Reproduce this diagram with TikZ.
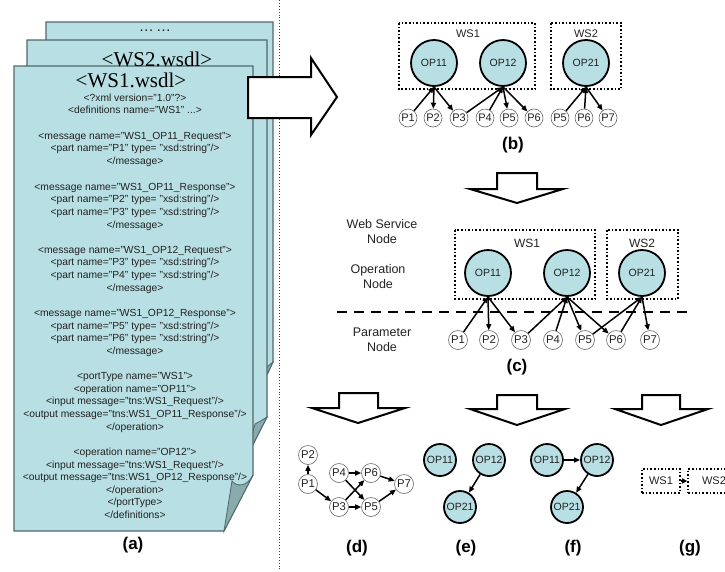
\documentclass[tikz,border=0pt]{standalone}
\usepackage{fontspec}
\setmainfont{Liberation Sans}
\newfontfamily\serifx{Liberation Serif}
\usetikzlibrary{arrows.meta}
\definecolor{docfill}{RGB}{184,223,227}
\definecolor{docline}{RGB}{80,104,108}
\definecolor{foldfill}{RGB}{138,170,173}
\definecolor{opfill}{RGB}{184,223,227}
\definecolor{ink}{RGB}{34,34,34}
\begin{document}
\begin{tikzpicture}[x=1pt,y=-1pt,
  doctext/.style={font=\fontsize{10.3}{12}\selectfont, text=ink, inner sep=0, text height=7.5pt, text depth=2pt},
  doctitle/.style={font=\serifx\fontsize{21}{24}\selectfont, text=black, inner sep=0},
  op/.style={circle, draw=black, line width=1.8pt, fill=opfill, minimum size=46pt, inner sep=0, font=\fontsize{10.5}{12}\selectfont, text=ink},
  opsm/.style={op, minimum size=32pt, font=\fontsize{10.5}{12}\selectfont},
  par/.style={circle, draw=black!60, line width=0.6pt, fill=white, minimum size=19pt, inner sep=0, font=\fontsize{11.3}{12}\selectfont, text=ink},
  wsbox/.style={draw=black, dotted, line width=1.6pt},
  wslab/.style={font=\fontsize{12}{14}\selectfont, text=ink, inner sep=0},
  gbox/.style={draw=black, dotted, line width=1.6pt, minimum height=24pt, inner sep=0, font=\fontsize{11}{13}\selectfont, text=ink},
  edge/.style={line width=1.5pt, -{Triangle[length=6pt,width=5pt]}},
  bigarrow/.style={draw=black, line width=2pt, fill=white, line join=miter},
  lab/.style={font=\bfseries\fontsize{17}{20}\selectfont, text=black, inner sep=0},
  side/.style={font=\fontsize{12.5}{15}\selectfont, text=ink, align=center, inner sep=0},
]
\useasboundingbox (0,0) rectangle (725,571);

% ---------- documents ----------
\draw[docline, fill=docfill, line width=1.2pt] (46,22) -- (273,22) -- (273,362) -- (262,385) -- (46,385) -- cycle;
\filldraw[draw=docline, fill=foldfill, line width=0.8pt] (273,362) -- (262,385) -- (266,369) .. controls (268,366) .. (273,362) -- cycle;
\draw[docline, fill=docfill, line width=1.2pt] (27,40) -- (267,40) -- (267,417) -- (245,460) -- (27,460) -- cycle;
\filldraw[draw=docline, fill=foldfill, line width=0.8pt] (267,417) -- (245,460) -- (255,424) .. controls (259,422) .. (267,417) -- cycle;
\draw[docline, fill=docfill, line width=1.2pt] (14,66) -- (253,66) -- (253,475) -- (224,531) -- (14,531) -- cycle;
\filldraw[draw=docline, fill=foldfill, line width=0.8pt] (253,475) -- (224,531) -- (232,481) .. controls (237,487) and (247,487) .. (253,475) -- cycle;

\node[font=\fontsize{15}{16}\selectfont, text=ink, inner sep=0] (dots) at (155,31) {…\,…};
\node[doctitle] (ws2t) at (157,59) {<WS2.wsdl>};
\node[doctitle] (ws1t) at (131,80) {<WS1.wsdl>};

\node[doctext] (l1) at (135,99) {<?xml version="1.0"?>};
\node[doctext] (l2) at (135,111) {<definitions name="WS1" ...>};
\node[doctext] (l3) at (135,137) {<message name="WS1\_OP11\_Request">};
\node[doctext] (l4) at (135,149) {<part name="P1" type= "xsd:string"/>};
\node[doctext] (l5) at (135,162) {</message>};
\node[doctext] (l6) at (135,188) {<message name="WS1\_OP11\_Response">};
\node[doctext] (l7) at (135,200) {<part name="P2" type= "xsd:string"/>};
\node[doctext] (l8) at (135,213) {<part name="P3" type= "xsd:string"/>};
\node[doctext] (l9) at (135,226) {</message>};
\node[doctext] (l10) at (135,251) {<message name="WS1\_OP12\_Request">};
\node[doctext] (l11) at (135,263) {<part name="P3" type= "xsd:string"/>};
\node[doctext] (l12) at (135,276) {<part name="P4" type= "xsd:string"/>};
\node[doctext] (l13) at (135,289) {</message>};
\node[doctext] (l14) at (135,314) {<message name="WS1\_OP12\_Response">};
\node[doctext] (l15) at (135,327) {<part name="P5" type= "xsd:string"/>};
\node[doctext] (l16) at (135,339) {<part name="P6" type= "xsd:string"/>};
\node[doctext] (l17) at (135,352) {</message>};
\node[doctext] (l18) at (135,377) {<portType name="WS1">};
\node[doctext] (l19) at (135,390) {<operation name="OP11">};
\node[doctext] (l20) at (135,402) {<input message="tns:WS1\_Request"/>};
\node[doctext] (l21) at (135,415) {<output message="tns:WS1\_OP11\_Response"/>};
\node[doctext] (l22) at (135,428) {</operation>};
\node[doctext] (l23) at (135,453) {<operation name="OP12">};
\node[doctext] (l24) at (135,466) {<input message="tns:WS1\_Request"/>};
\node[doctext] (l25) at (135,478) {<output message="tns:WS1\_OP12\_Response"/>};
\node[doctext] (l26) at (135,491) {</operation>};
\node[doctext] (l27) at (135,503) {</portType>};
\node[doctext] (l28) at (135,516) {</definitions>};

\node[lab] (la) at (133,545) {(a)};

% divider
\draw[dotted, line width=0.9pt, black!75] (279,0) -- (279,571);

% big right arrow
\draw[bigarrow] (248,77) -- (311,77) -- (311,58) -- (337,97) -- (311,135) -- (311,118) -- (248,118) -- cycle;

% ---------- (b) ----------
\draw[wsbox] (399,23) rectangle (535,89);
\draw[wsbox] (551,23) rectangle (621,89);
\node[wslab, font=\fontsize{11}{13}\selectfont] (bws1) at (468,34) {WS1};
\node[wslab, font=\fontsize{11}{13}\selectfont] (bws2) at (586,34) {WS2};
\node[op] (bop11) at (434,63) {OP11};
\node[op] (bop12) at (503,63) {OP12};
\node[op] (bop21) at (586,63) {OP21};
\node[par, minimum size=18pt, font=\fontsize{11}{12}\selectfont] (bp1) at (408,118) {P1};
\node[par, minimum size=18pt, font=\fontsize{11}{12}\selectfont] (bp2) at (433,118) {P2};
\node[par, minimum size=18pt, font=\fontsize{11}{12}\selectfont] (bp3) at (459,118) {P3};
\node[par, minimum size=18pt, font=\fontsize{11}{12}\selectfont] (bp4) at (485,118) {P4};
\node[par, minimum size=18pt, font=\fontsize{11}{12}\selectfont] (bp5) at (509,118) {P5};
\node[par, minimum size=18pt, font=\fontsize{11}{12}\selectfont] (bp6) at (534,118) {P6};
\node[par, minimum size=18pt, font=\fontsize{11}{12}\selectfont] (bq5) at (560,118) {P5};
\node[par, minimum size=18pt, font=\fontsize{11}{12}\selectfont] (bq6) at (584,118) {P6};
\node[par, minimum size=18pt, font=\fontsize{11}{12}\selectfont] (bq7) at (608,118) {P7};
\draw[edge] (bp1) -- (bop11.south);
\draw[edge] (bop11.south) -- (bp2);
\draw[edge] (bop11.south) -- (bp3);
\draw[edge] (bp3) -- (bop12.south);
\draw[edge] (bp4) -- (bop12.south);
\draw[edge] (bop12.south) -- (bp5);
\draw[edge] (bop12.south) -- (bp6);
\draw[edge] (bq5) -- (bop21.south);
\draw[edge] (bq6) -- (bop21.south);
\draw[edge] (bop21.south) -- (bq7);
\node[lab] (lb) at (513,145) {(b)};

% down arrow
\draw[bigarrow] (497,173) -- (537,173) -- (537,189) -- (563,189) -- (517,203) -- (470,189) -- (497,189) -- cycle;

% ---------- (c) ----------
\node[side] (cws) at (382,232) {Web Service\\Node};
\node[side] (cop) at (378,277) {Operation\\Node};
\node[side] (cpa) at (382,340) {Parameter\\Node};
\draw[wsbox] (455,230) rectangle (595,299);
\draw[wsbox] (607,230) rectangle (678,299);
\node[wslab] (cws1) at (527,243) {WS1};
\node[wslab] (cws2) at (642,243) {WS2};
\node[op] (cop11) at (488,273) {OP11};
\node[op] (cop12) at (567,273) {OP12};
\node[op] (cop21) at (642,273) {OP21};
\draw[line width=2pt, dash pattern=on 10pt off 7pt] (337,312) -- (693,312);
\node[par] (cp1) at (458,340) {P1};
\node[par] (cp2) at (489,340) {P2};
\node[par] (cp3) at (521,340) {P3};
\node[par] (cp4) at (553,340) {P4};
\node[par] (cp5) at (585,340) {P5};
\node[par] (cp6) at (616,340) {P6};
\node[par] (cp7) at (650,340) {P7};
\draw[edge] (cp1) -- (cop11.south);
\draw[edge] (cop11.south) -- (cp2);
\draw[edge] (cop11.south) -- (cp3);
\draw[edge] (cp3) -- (cop12.south);
\draw[edge] (cp4) -- (cop12.south);
\draw[edge] (cop12.south) -- (cp5);
\draw[edge] (cop12.south) -- (cp6);
\draw[edge] (cp5) -- (cop21.south);
\draw[edge] (cp6) -- (cop21.south);
\draw[edge] (cop21.south) -- (cp7);
\node[lab] (lc) at (517,367) {(c)};

% three down arrows
\draw[bigarrow] (339,393) -- (378,393) -- (378,408) -- (405,408) -- (358,423) -- (312,408) -- (339,408) -- cycle;
\draw[bigarrow] (497,395) -- (537,395) -- (537,409) -- (565,409) -- (517,425) -- (470,409) -- (497,409) -- cycle;
\draw[bigarrow] (642,395) -- (680,395) -- (680,409) -- (708,409) -- (661,425) -- (615,409) -- (642,409) -- cycle;

% ---------- (d) ----------
\node[par] (dp2) at (308,455) {P2};
\node[par] (dp1) at (308,484) {P1};
\node[par] (dp4) at (339,473) {P4};
\node[par] (dp6) at (371,473) {P6};
\node[par] (dp3) at (339,507) {P3};
\node[par] (dp5) at (371,507) {P5};
\node[par] (dp7) at (404,484) {P7};
\draw[edge] (dp1) -- (dp2);
\draw[edge] (dp1) -- (dp3);
\draw[edge] (dp4) -- (dp6);
\draw[edge] (dp4) -- (dp5);
\draw[edge] (dp3) -- (dp6);
\draw[edge] (dp3) -- (dp5);
\draw[edge] (dp6) -- (dp7);
\draw[edge] (dp5) -- (dp7);
\node[lab] (ld) at (357,548) {(d)};

% ---------- (e) ----------
\node[opsm] (eop11) at (440,460) {OP11};
\node[opsm] (eop12) at (489,460) {OP12};
\node[opsm] (eop21) at (460,507) {OP21};
\draw[edge] (eop12) -- (eop21);
\node[lab] (le) at (466,548) {(e)};

% ---------- (f) ----------
\node[opsm] (fop11) at (547,460) {OP11};
\node[opsm] (fop12) at (597,460) {OP12};
\node[opsm] (fop21) at (567,507) {OP21};
\draw[edge] (fop11) -- (fop12);
\draw[edge] (fop12) -- (fop21);
\node[lab] (lf) at (573,548) {(f)};

% ---------- (g) ----------
\node[gbox, minimum width=38pt] (gws1) at (661,481) {WS1};
\node[gbox, minimum width=52pt] (gws2) at (714,481) {WS2};
\draw[dotted, line width=1.2pt, -{Triangle[length=5pt,width=5pt]}] (gws1) -- (gws2);
\node[lab] (lg) at (690,548) {(g)};
\end{tikzpicture}
\end{document}
